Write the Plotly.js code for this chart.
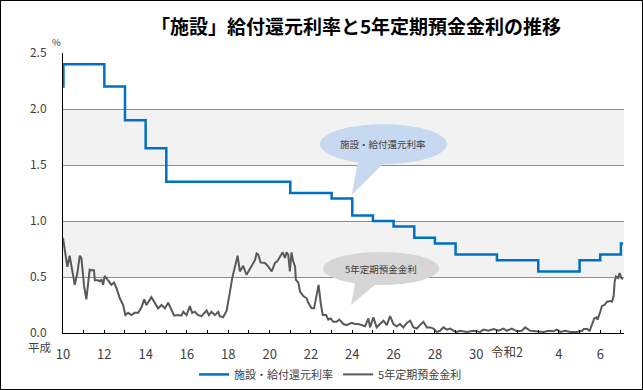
<!DOCTYPE html>
<html>
<head>
<meta charset="utf-8">
<script src="https://cdn.plot.ly/plotly-3.0.1.min.js"></script>
<style>
  html, body { margin: 0; padding: 0; background: #fff; }
  #wrap { position: relative; width: 643px; height: 390px; }
  #chart { width: 643px; height: 390px; }
  #frame { position: absolute; left: 0; top: 0; width: 643px; height: 390px; box-sizing: border-box; border: 1px solid #000; pointer-events: none; }
</style>
</head>
<body>
<div id="wrap"><div id="chart"></div><div id="frame"></div></div>
<script>
// ---- data ----
const seriesNames = ['施設・給付還元利率', '5年定期預金金利'];

// 施設・給付還元利率 (step series), x = calendar year (decimal)
const rateX = [1998.0, 1998.02, 2000.0, 2001.0, 2002.0, 2003.0, 2009.0, 2011.0, 2012.0, 2013.0, 2014.0, 2015.0, 2016.0, 2017.0, 2019.0, 2021.0, 2023.0, 2024.0, 2025.0, 2025.1];
const rateY = [2.2, 2.4, 2.2, 1.9, 1.65, 1.35, 1.25, 1.2, 1.05, 1.0, 0.95, 0.85, 0.8, 0.7, 0.65, 0.55, 0.65, 0.7, 0.8, 0.8];

// 5年定期預金金利
const depX = [
  1998.00, 1998.08, 1998.21, 1998.32, 1998.41, 1998.57, 1998.70, 1998.81, 1998.89, 1999.02,
  1999.13, 1999.29, 1999.37, 1999.50, 1999.54, 1999.70, 1999.78, 1999.86, 1999.94, 2000.02,
  2000.18, 2000.34, 2000.47, 2000.59, 2000.75, 2000.91, 2001.02, 2001.15, 2001.31, 2001.47,
  2001.64, 2001.80, 2001.93, 2002.04, 2002.28, 2002.44, 2002.60, 2002.77, 2002.93, 2003.09,
  2003.25, 2003.38, 2003.57, 2003.73, 2003.82, 2003.98, 2004.14, 2004.25, 2004.38, 2004.54,
  2004.70, 2004.95, 2005.06, 2005.19, 2005.35, 2005.51, 2005.59, 2005.75, 2005.92, 2006.00,
  2006.11, 2006.19, 2006.32, 2006.45, 2006.56, 2006.72, 2006.88, 2007.05, 2007.29, 2007.37,
  2007.45, 2007.56, 2007.77, 2007.93, 2008.10, 2008.26, 2008.37, 2008.50, 2008.63, 2008.74,
  2008.82, 2008.90, 2008.98, 2009.06, 2009.14, 2009.23, 2009.27, 2009.39, 2009.47, 2009.63,
  2009.79, 2009.87, 2010.03, 2010.15, 2010.28, 2010.37, 2010.47, 2010.57, 2010.73, 2010.84,
  2010.95, 2011.08, 2011.24, 2011.37, 2011.57, 2011.73, 2011.97, 2012.13, 2012.29, 2012.46,
  2012.62, 2012.78, 2012.86, 2013.02, 2013.18, 2013.34, 2013.51, 2013.67, 2013.83, 2013.99,
  2014.15, 2014.31, 2014.47, 2014.64, 2014.80, 2014.96, 2015.12, 2015.28, 2015.44, 2015.61,
  2015.77, 2015.93, 2016.09, 2016.25, 2016.41, 2016.57, 2016.74, 2016.90, 2017.06, 2017.22,
  2017.54, 2017.87, 2018.19, 2018.35, 2018.59, 2018.84, 2019.08, 2019.32, 2019.48, 2019.72,
  2019.97, 2020.21, 2020.37, 2020.61, 2020.93, 2021.26, 2021.50, 2021.74, 2021.90, 2022.07,
  2022.31, 2022.55, 2022.87, 2023.12, 2023.20, 2023.36, 2023.49, 2023.60, 2023.71, 2023.81,
  2023.87, 2024.00, 2024.08, 2024.20, 2024.33, 2024.49, 2024.57, 2024.65, 2024.70, 2024.76,
  2024.86, 2024.94, 2025.02, 2025.10
];
const depY = [
  0.85, 0.74, 0.59, 0.69, 0.59, 0.43, 0.54, 0.69, 0.67, 0.42,
  0.30, 0.565, 0.56, 0.56, 0.47, 0.47, 0.46, 0.48, 0.43, 0.51,
  0.47, 0.43, 0.45, 0.40, 0.31, 0.25, 0.16, 0.18, 0.16, 0.18,
  0.18, 0.23, 0.30, 0.25, 0.32, 0.27, 0.22, 0.25, 0.22, 0.27,
  0.20, 0.155, 0.16, 0.155, 0.19, 0.16, 0.24, 0.18, 0.19, 0.16,
  0.15, 0.20, 0.16, 0.19, 0.16, 0.19, 0.15, 0.14, 0.20, 0.30,
  0.40, 0.49, 0.59, 0.69, 0.55, 0.60, 0.52, 0.57, 0.65, 0.71,
  0.70, 0.63, 0.625, 0.595, 0.55, 0.625, 0.64, 0.68, 0.72, 0.67,
  0.72, 0.70, 0.55, 0.72, 0.64, 0.595, 0.475, 0.45, 0.37, 0.33,
  0.31, 0.27, 0.22, 0.22, 0.33, 0.43, 0.27, 0.16, 0.16, 0.12,
  0.13, 0.10, 0.10, 0.12, 0.08, 0.07, 0.09, 0.08, 0.08, 0.07,
  0.06, 0.13, 0.05, 0.14, 0.05, 0.08, 0.11, 0.07, 0.15, 0.08,
  0.06, 0.08, 0.05, 0.09, 0.11, 0.05, 0.04, 0.07, 0.10, 0.05,
  0.05, 0.04, 0.01, 0.02, 0.05, 0.03, 0.04, 0.02, 0.01, 0.02,
  0.01, 0.02, 0.01, 0.03, 0.02, 0.035, 0.02, 0.04, 0.02, 0.04,
  0.015, 0.02, 0.05, 0.02, 0.015, 0.01, 0.02, 0.015, 0.03, 0.01,
  0.02, 0.01, 0.01, 0.02, 0.035, 0.035, 0.02, 0.075, 0.13, 0.14,
  0.12, 0.19, 0.24, 0.25, 0.28, 0.285, 0.28, 0.33, 0.46, 0.505,
  0.49, 0.535, 0.49, 0.48
];

// axis ticks: one per year, labels every two years (平成10 … 令和6)
const tickYears = [1998, 1999, 2000, 2001, 2002, 2003, 2004, 2005, 2006, 2007, 2008, 2009, 2010, 2011,
  2012, 2013, 2014, 2015, 2016, 2017, 2018, 2019, 2020, 2021, 2022, 2023, 2024, 2025];
const tickLabels = ['10', '', '12', '', '14', '', '16', '', '18', '', '20', '', '22', '',
  '24', '', '26', '', '28', '', '30', '', '', '', '4', '', '6', ''];
const reiwaLabel = '令和2';
const reiwaYear = 2020;
const eraLabel = '平成';
const unitLabel = '%';
const titleText = '「施設」給付還元利率と5年定期預金金利の推移';

// ---- chart ----
const FONT = '"Noto Sans CJK JP", "Noto Sans", sans-serif';
const TXT = '#404040';

const traces = [
  {
    x: rateX, y: rateY, name: seriesNames[0], type: 'scatter', mode: 'lines',
    line: { color: '#0070C0', width: 2.5, shape: 'hv' }, hoverinfo: 'skip'
  },
  {
    x: depX, y: depY, name: seriesNames[1], type: 'scatter', mode: 'lines',
    line: { color: '#595959', width: 2 }, hoverinfo: 'skip'
  }
];

const layout = {
  width: 643, height: 390,
  margin: { l: 63, r: 19, t: 53, b: 57, pad: 0, autoexpand: false },
  paper_bgcolor: '#ffffff', plot_bgcolor: '#ffffff',
  font: { family: FONT, color: TXT, size: 12 },
  title: {
    text: '<b>' + titleText + '</b>',
    font: { family: FONT, size: 19, color: '#000000' },
    xref: 'paper', x: 0.5223, xanchor: 'center',
    yref: 'container', y: 0.93, yanchor: 'middle'
  },
  showlegend: true,
  legend: {
    orientation: 'h', xref: 'paper', x: 0.477, xanchor: 'center',
    yref: 'container', y: 0.040, yanchor: 'middle',
    font: { family: FONT, size: 11, color: TXT }, itemwidth: 30, bgcolor: 'rgba(0,0,0,0)'
  },
  xaxis: {
    range: [1998, 2025.15], tickmode: 'array', tickvals: tickYears, ticktext: tickLabels,
    ticks: 'inside', ticklen: 3, tickcolor: '#000', tickwidth: 1,
    showline: true, linecolor: '#000', linewidth: 1, showgrid: false, zeroline: false,
    tickfont: { family: FONT, size: 13, color: TXT }, ticklabelstandoff: 9, fixedrange: true,
    automargin: false
  },
  yaxis: {
    range: [0, 2.5], dtick: 0.5, tick0: 0, tickformat: '.1f',
    showgrid: true, gridcolor: '#8C8C8C', gridwidth: 1,
    showline: true, linecolor: '#000', linewidth: 1, zeroline: false, ticks: '',
    tickfont: { family: FONT, size: 12, color: TXT }, ticklabelstandoff: 13, fixedrange: true,
    automargin: false
  },
  shapes: [
    { type: 'rect', xref: 'paper', yref: 'y', x0: 0, x1: 1, y0: 0.5, y1: 1.0, fillcolor: '#F2F2F2', line: { width: 0 }, layer: 'below' },
    { type: 'rect', xref: 'paper', yref: 'y', x0: 0, x1: 1, y0: 1.5, y1: 2.0, fillcolor: '#F2F2F2', line: { width: 0 }, layer: 'below' },
    // blue callout
    { type: 'circle', xref: 'paper', yref: 'paper', x0: 0.458, x1: 0.6845, y0: 0.6036, y1: 0.746, fillcolor: '#C6D9F1', line: { width: 0 }, layer: 'above' },
    { type: 'path', xref: 'paper', yref: 'paper', path: 'M 0.5276 0.632 L 0.5847 0.632 L 0.5146 0.4929 Z', fillcolor: '#C6D9F1', line: { width: 0 }, layer: 'above' },
    // gray callout
    { type: 'circle', xref: 'paper', yref: 'paper', x0: 0.4635, x1: 0.6702, y0: 0.1714, y1: 0.2893, fillcolor: '#D6D6D6', line: { width: 0 }, layer: 'above' },
    { type: 'path', xref: 'paper', yref: 'paper', path: 'M 0.5223 0.1964 L 0.5704 0.1964 L 0.5134 0.1 Z', fillcolor: '#D6D6D6', line: { width: 0 }, layer: 'above' }
  ],
  annotations: [
    { text: seriesNames[0], xref: 'paper', yref: 'paper', x: 0.5713, y: 0.6748, xanchor: 'center', yanchor: 'middle', showarrow: false, font: { family: FONT, size: 9.5, color: TXT } },
    { text: seriesNames[1], xref: 'paper', yref: 'paper', x: 0.5668, y: 0.2303, xanchor: 'center', yanchor: 'middle', showarrow: false, font: { family: FONT, size: 9.5, color: TXT } },
    { text: reiwaLabel, xref: 'x', yref: 'paper', x: reiwaYear, y: -0.0675, xanchor: 'right', yanchor: 'middle', xshift: 7, showarrow: false, font: { family: FONT, size: 12.5, color: TXT } },
    { text: eraLabel, xref: 'paper', yref: 'paper', x: -0.0410, y: -0.051, xanchor: 'center', yanchor: 'middle', showarrow: false, font: { family: FONT, size: 11.5, color: TXT } },
    { text: unitLabel, xref: 'paper', yref: 'paper', x: -0.0107, y: 1.039, xanchor: 'center', yanchor: 'middle', showarrow: false, font: { family: FONT, size: 9.5, color: TXT } }
  ]
};

Plotly.newPlot('chart', traces, layout, { displayModeBar: false, staticPlot: true });
</script>
</body>
</html>
